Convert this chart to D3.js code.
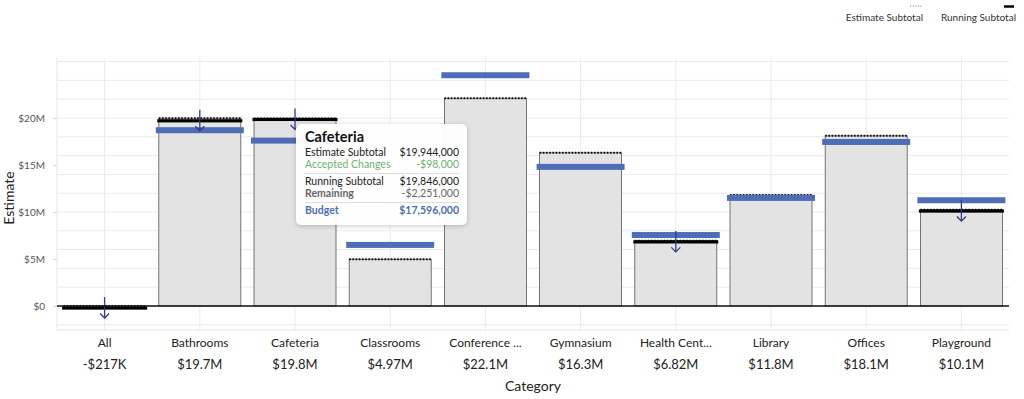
<!DOCTYPE html>
<html>
<head>
<meta charset="utf-8">
<script src="https://cdn.jsdelivr.net/npm/d3@7"></script>
<style>
  html, body { margin: 0; padding: 0; background: #fff; }
  svg { display: block; font-family: Lato, "Noto Sans", sans-serif; }
</style>
</head>
<body>
<svg id="chart" width="1024" height="399"></svg>
<script>
// ---- data ----
const categories = ["All", "Bathrooms", "Cafeteria", "Classrooms", "Conference ...", "Gymnasium", "Health Cent...", "Library", "Offices", "Playground"];
const estimateSubtotal = [0, 19980000, 19944000, 4970000, 22100000, 16300000, 6950000, 11800000, 18100000, 10250000];
const acceptedChanges = [-217000, -280000, -98000, 0, 0, 0, -130000, 0, 0, -150000];
const runningSubtotal = [-217000, 19700000, 19846000, 4970000, 22100000, 16300000, 6820000, 11800000, 18100000, 10100000];
const budget = [null, 18700000, 17596000, 6500000, 24550000, 14800000, 7550000, 11500000, 17450000, 11250000];
const yTickValues = [0, 5000000, 10000000, 15000000, 20000000];
const gridValues = [-2000000, 0, 2000000, 4000000, 6000000, 8000000, 10000000, 12000000, 14000000, 16000000, 18000000, 20000000, 22000000, 24000000, 26000000];
const tooltipCategory = "Cafeteria";
const tooltipRows = [
  { label: "Estimate Subtotal", value: "$19,944,000", kind: "normal" },
  { label: "Accepted Changes", value: "-$98,000", kind: "change" },
  { label: "Running Subtotal", value: "$19,846,000", kind: "normal", sepBefore: true },
  { label: "Remaining", value: "-$2,251,000", kind: "remain" },
  { label: "Budget", value: "$17,596,000", kind: "budget", sepBefore: true }
];

// ---- layout ----
const svg = d3.select("#chart");
const pL = 57, pR = 1009, pT = 58, pB = 330;

const x = d3.scaleBand().domain(categories).range([pL, pR]).padding(0);
const y = d3.scaleLinear().domain([-2553000, 26383000]).range([pB, pT]);

const cx = c => x(c) + x.bandwidth() / 2;

// grid
const grid = svg.append("g");
grid.selectAll("line.h").data(gridValues).join("line")
  .attr("x1", pL).attr("x2", pR)
  .attr("y1", d => y(d)).attr("y2", d => y(d))
  .attr("stroke", "#ebebeb").attr("stroke-width", 1);
grid.selectAll("line.v").data(categories).join("line")
  .attr("x1", d => cx(d)).attr("x2", d => cx(d))
  .attr("y1", pT).attr("y2", pB)
  .attr("stroke", "#ebebeb").attr("stroke-width", 1);
grid.append("line").attr("x1", pL).attr("x2", pL).attr("y1", pT).attr("y2", pB).attr("stroke", "#e6e6e6");
grid.append("line").attr("x1", pL).attr("x2", pR).attr("y1", pB).attr("y2", pB).attr("stroke", "#e6e6e6");

// y axis
const yAxis = d3.axisLeft(y).tickValues(yTickValues).tickSize(4).tickPadding(8)
  .tickFormat(d => d === 0 ? "$0" : "$" + (d / 1e6) + "M");
const yg = svg.append("g").attr("transform", `translate(${pL},0)`).call(yAxis);
yg.select(".domain").remove();
yg.selectAll(".tick line").attr("stroke", "#dddddd");
yg.selectAll(".tick text").attr("fill", "#555").style("font-size", "10px").style("font-family", "Lato, sans-serif");

svg.append("text").attr("transform", `translate(14,${(pT + pB) / 2 + 4}) rotate(-90)`)
  .attr("text-anchor", "middle").attr("fill", "#222").style("font-size", "14px").text("Estimate");

// x axis labels
const xAxis = d3.axisBottom(x).tickSize(0).tickPadding(0).tickFormat(d => d);
const xg = svg.append("g").attr("transform", `translate(0,${pB})`).call(xAxis);
xg.select(".domain").remove();
xg.selectAll(".tick text").attr("dy", null).attr("y", 17).attr("fill", "#222")
  .style("font-size", "12px").style("font-family", "Lato, sans-serif");

const fmtShort = v => {
  const s = d3.format(".3s")(Math.abs(v)).replace("k", "K");
  return (v < 0 ? "-$" : "$") + s;
};
svg.append("g").selectAll("text").data(categories).join("text")
  .attr("x", d => cx(d)).attr("y", pB + 39)
  .attr("text-anchor", "middle").attr("fill", "#222").style("font-size", "13px")
  .text((d, i) => fmtShort(runningSubtotal[i]));

svg.append("text").attr("x", (pL + pR) / 2).attr("y", 391)
  .attr("text-anchor", "middle").attr("fill", "#222").style("font-size", "14px").text("Category");

// bars
const barW = 82, runW = 85, budW = 88;
const marks = svg.append("g");
marks.selectAll("rect.bar").data(categories).join("rect")
  .attr("x", d => cx(d) - barW / 2).attr("width", barW)
  .attr("y", (d, i) => Math.min(y(0), y(estimateSubtotal[i])))
  .attr("height", (d, i) => Math.abs(y(0) - y(estimateSubtotal[i])))
  .attr("fill", "#e3e3e3").attr("stroke", "#555").attr("stroke-width", 0.8);

// dotted estimate top
marks.selectAll("line.est").data(categories).join("line")
  .attr("x1", d => cx(d) - barW / 2).attr("x2", d => cx(d) + barW / 2)
  .attr("y1", (d, i) => y(estimateSubtotal[i])).attr("y2", (d, i) => y(estimateSubtotal[i]))
  .attr("stroke", "#111").attr("stroke-width", 2).attr("stroke-dasharray", "1.6,1.6");

// zero line
svg.append("line").attr("x1", pL).attr("x2", pR).attr("y1", y(0)).attr("y2", y(0))
  .attr("stroke", "#111").attr("stroke-width", 1.5);

// budget
marks.selectAll("rect.bud").data(categories.filter((d, i) => budget[i] != null)).join("rect")
  .attr("x", d => cx(d) - budW / 2).attr("width", budW)
  .attr("y", d => y(budget[categories.indexOf(d)]) - 3).attr("height", 6)
  .attr("fill", "#4f6db6");

// running subtotal (only where changes exist)
const changed = categories.filter((d, i) => acceptedChanges[i] !== 0);
marks.selectAll("rect.run").data(changed).join("rect")
  .attr("x", d => cx(d) - runW / 2).attr("width", runW)
  .attr("y", d => y(runningSubtotal[categories.indexOf(d)]) - 1.6).attr("height", 3.2)
  .attr("fill", "#000");

// arrows
const arrowC = "#343a86";
const ag = marks.selectAll("g.arrow").data(changed).join("g")
  .attr("transform", d => `translate(${cx(d)},${y(runningSubtotal[categories.indexOf(d)])})`);
ag.append("line").attr("x1", 0).attr("x2", 0).attr("y1", -11).attr("y2", 10)
  .attr("stroke", arrowC).attr("stroke-width", 1.3);
ag.append("path").attr("d", "M-4.5,5.5 L0,10 L4.5,5.5").attr("fill", "none")
  .attr("stroke", arrowC).attr("stroke-width", 1.3);

// legend
const lg = svg.append("g");
lg.append("line").attr("x1", 910).attr("x2", 923).attr("y1", 6).attr("y2", 6)
  .attr("stroke", "#888").attr("stroke-width", 1.2).attr("stroke-dasharray", "1.2,1.4");
lg.append("text").attr("x", 923).attr("y", 21).attr("text-anchor", "end")
  .attr("fill", "#333").style("font-size", "10px").text("Estimate Subtotal");
lg.append("line").attr("x1", 1004).attr("x2", 1014).attr("y1", 6.5).attr("y2", 6.5)
  .attr("stroke", "#000").attr("stroke-width", 2.5);
lg.append("text").attr("x", 1016).attr("y", 21).attr("text-anchor", "end")
  .attr("fill", "#333").style("font-size", "10px").text("Running Subtotal");

// tooltip
const defs = svg.append("defs");
const f = defs.append("filter").attr("id", "shadow").attr("x", "-20%").attr("y", "-20%").attr("width", "140%").attr("height", "140%");
f.append("feDropShadow").attr("dx", 0).attr("dy", 1).attr("stdDeviation", 2.5).attr("flood-color", "#000").attr("flood-opacity", 0.22);

const tx = 296, ty = 124, tw = 171, th = 101;
const tg = svg.append("g");
tg.append("rect").attr("x", tx).attr("y", ty).attr("width", tw).attr("height", th).attr("rx", 5)
  .attr("fill", "#fff").attr("fill-opacity", 0.95).attr("filter", "url(#shadow)");
tg.append("text").attr("x", tx + 9).attr("y", ty + 18).attr("fill", "#111")
  .style("font-size", "14.5px").style("font-weight", "700").text(tooltipCategory);
const rowYs = [156, 168, 185, 197, 214];
const colors = { normal: "#222", change: "#6fb36f", remain: "#666", budget: "#4f6db6" };
tooltipRows.forEach((r, i) => {
  if (r.sepBefore) {
    tg.append("line").attr("x1", tx + 9).attr("x2", tx + tw - 8)
      .attr("y1", rowYs[i] - 11.5).attr("y2", rowYs[i] - 11.5).attr("stroke", "#ddd");
  }
  tg.append("text").attr("x", tx + 9).attr("y", rowYs[i]).attr("fill", colors[r.kind])
    .style("font-size", "10.5px").style("font-weight", (r.kind === "remain" || r.kind === "budget") ? 700 : 400)
    .text(r.label);
  tg.append("text").attr("x", tx + tw - 8).attr("y", rowYs[i]).attr("text-anchor", "end").attr("fill", colors[r.kind])
    .style("font-size", "10.5px").style("font-weight", r.kind === "budget" ? 700 : 400)
    .text(r.value);
});
</script>
</body>
</html>
